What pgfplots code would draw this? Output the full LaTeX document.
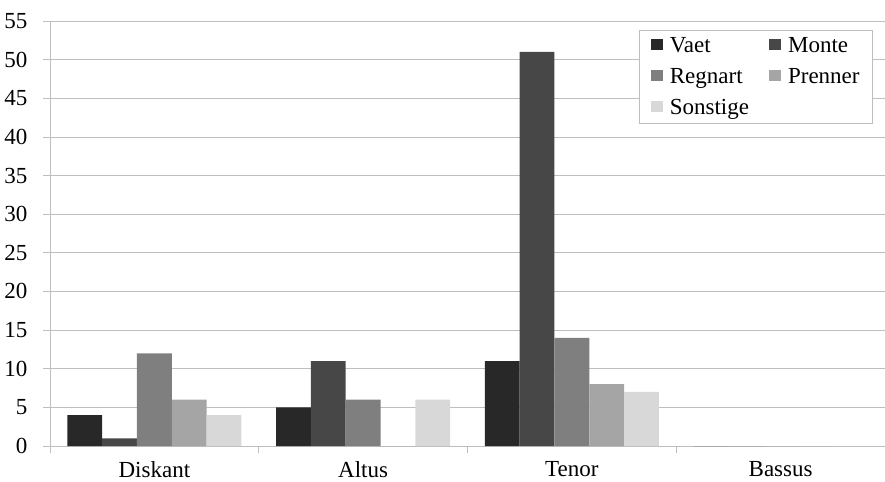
\documentclass[border=0pt]{standalone}
\usepackage{pgfplots}
\pgfplotsset{compat=1.18}
\usepackage{fontspec}
\setmainfont{Liberation Serif}

\definecolor{cVaet}{HTML}{282828}
\definecolor{cMonte}{HTML}{474747}
\definecolor{cRegnart}{HTML}{7F7F7F}
\definecolor{cPrenner}{HTML}{A5A5A5}
\definecolor{cSonstige}{HTML}{D8D8D8}
\definecolor{cGrid}{HTML}{BEBEBE}

% Stimmbuch: 0 Diskant, 1 Altus, 2 Tenor, 3 Bassus
\pgfplotstableread{
x Vaet Monte Regnart Prenner Sonstige
0 4  1  12 6 4
1 5  11 6  0 6
2 11 51 14 8 7
3 0  0  0  0 0
}\stimmen

\newcommand{\lblfont}{\fontsize{23bp}{25bp}\selectfont}

\begin{document}
\begin{tikzpicture}
\begin{axis}[
  scale only axis,
  width=835bp, height=425bp,
  ybar=0pt, bar width=0.1667,
  xmin=-0.5, xmax=3.5, ymin=0, ymax=55,
  ytick={0,5,...,55},
  ymajorgrids,
  grid style={draw=cGrid, line width=0.8bp},
  axis x line*=bottom, axis y line*=left,
  axis line style={draw=cGrid, line width=0.8bp, -},
  tick style={draw=cGrid, line width=0.8bp},
  tick align=outside, major tick length=7bp,
  xtick={-0.5,0.5,1.5,2.5,3.5}, xticklabels={},
  extra x ticks={0,1,2,3},
  extra x tick labels={Diskant,Altus,Tenor,Bassus},
  extra x tick style={major tick length=0pt, grid=none},
  tick label style={font=\lblfont},
  /pgf/number format/assume math mode=true,
  yticklabel style={xshift=-12bp},
  xticklabel style={yshift=-12bp},
  legend columns=2,
  legend cell align=left,
  legend style={at={(0.9856,0.9788)}, anchor=north east,
    draw=cGrid, line width=0.8bp, font=\lblfont,
    inner xsep=11bp, inner ysep=5bp, row sep=10.5bp,
    /tikz/every odd column/.append style={column sep=5bp},
    /tikz/every even column/.append style={column sep=18bp}},
  legend image code/.code={\fill[#1] (0bp,-4bp) rectangle (12bp,7bp);},
]
\addplot[fill=cVaet, draw=none] table[x=x, y=Vaet] {\stimmen};
\addplot[fill=cMonte, draw=none] table[x=x, y=Monte] {\stimmen};
\addplot[fill=cRegnart, draw=none] table[x=x, y=Regnart] {\stimmen};
\addplot[fill=cPrenner, draw=none] table[x=x, y=Prenner] {\stimmen};
\addplot[fill=cSonstige, draw=none] table[x=x, y=Sonstige] {\stimmen};
\legend{Vaet,Monte,Regnart,Prenner,Sonstige}
\end{axis}
\pgfresetboundingbox
\path ([xshift=-50bp,yshift=-36bp]current axis.south west)
  rectangle ([yshift=21bp]current axis.north east);
\end{tikzpicture}
\end{document}
